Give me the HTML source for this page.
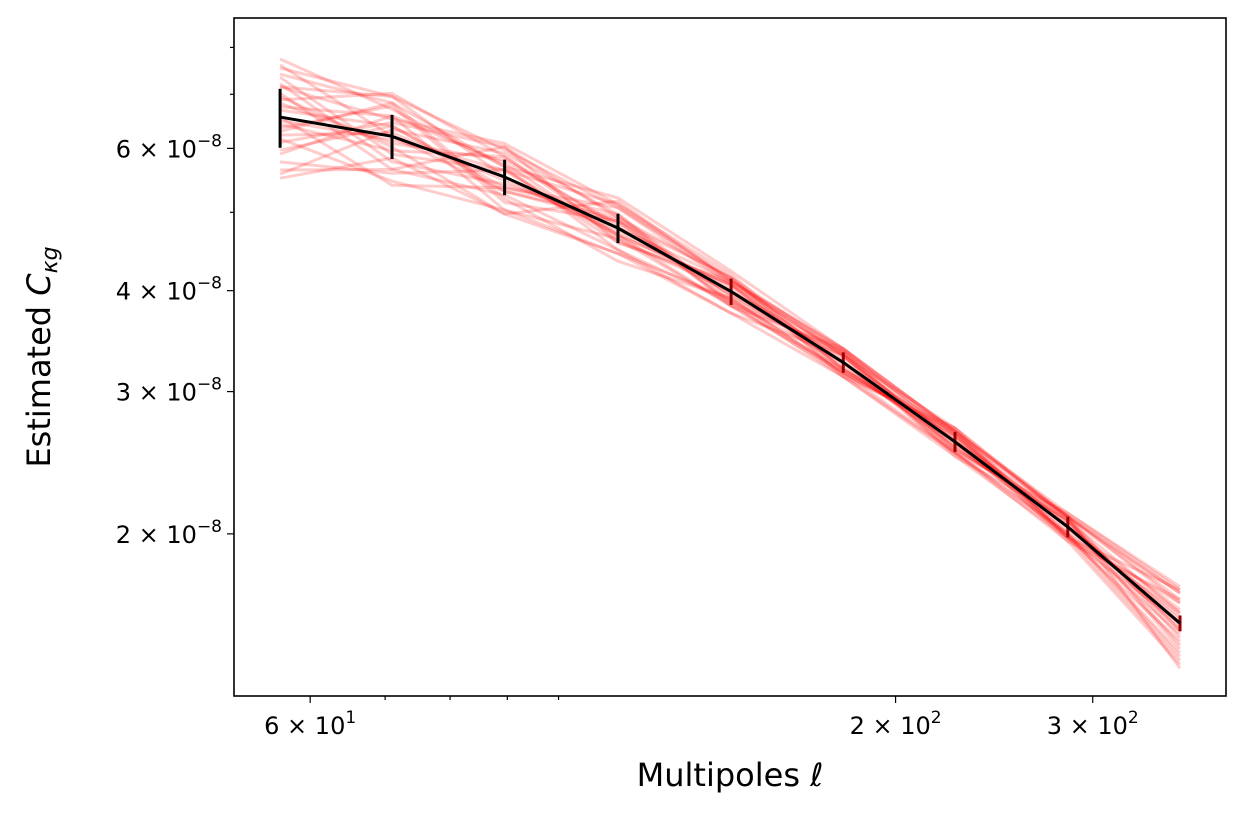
<!DOCTYPE html>
<html><head><meta charset="utf-8"><style>
body{margin:0;background:#fff;}
svg{display:block;font-family:"DejaVu Sans","Liberation Sans",sans-serif;}
</style></head><body>
<svg id="chart" width="1245" height="820" xmlns="http://www.w3.org/2000/svg">
<g id="lines"></g>
<g id="mean"></g>
<g id="axes"></g>
<text x="730" y="786" font-size="32" text-anchor="middle">Multipoles <tspan font-style="italic">ℓ</tspan></text>
<text transform="translate(50,357) rotate(-90)" font-size="32" text-anchor="middle">Estimated <tspan font-style="italic">C</tspan><tspan font-style="italic" font-size="22" dy="7">κg</tspan></text>
</svg>
<script>
const ells = [56.4, 71.0, 89.5, 113, 142.6, 179.6, 226, 285, 359];
const meanVals = [6.56, 6.21, 5.53, 4.78, 3.99, 3.26, 2.60, 2.04, 1.55]; // x1e-8
const errVals = [0.55, 0.39, 0.28, 0.20, 0.15, 0.095, 0.075, 0.06, 0.035]; // x1e-8
const devs = [ // percent deviation of realizations
[15,12,8,6,4,3,2,3,9],[-14,-9,-5,-6,-3,-4,-3,-2,-8],[9,5,10,7,3,2,4,3,6],[-6,-12,-9,-3,-4,-2,0,-3,-10],
[18,8,3,9,6,4,3,4,10],[-16,-6,-10,-7,-6,-4,-4,-3,-5],[5,13,6,-2,2,3,-2,2,3],[-9,3,-3,4,-2,-3,2,-2,-3],
[12,-5,2,-4,3,4,3,3,7],[-3,9,-7,2,-3,0,-3,-4,-11],[7,-9,9,3,4,-2,2,0,4],[-10,6,4,-3,0,3,-2,2,-2],
[0,-13,-3,6,2,-3,3,-3,6],[13,10,-6,-9,-2,2,-4,2,-6],[-15,2,7,4,-4,-3,3,3,9],[6,-3,-10,8,3,4,0,-2,-9],
[-4,10,3,-6,-6,2,-3,4,11],[10,-7,-2,2,4,-4,4,-3,0],[-7,4,9,-4,2,0,-2,3,-4],[16,0,-4,3,-3,3,2,-4,7],
[-12,-10,2,7,5,-2,4,2,-7],[3,6,-9,-7,-2,-3,-3,-2,3],[-2,-4,6,0,3,2,0,3,-12],[9,12,0,-2,-4,4,3,-3,10],
[4,-2,5,1,-1,1,1,-1,2],[-5,1,-1,-1,1,-1,-1,1,-2],[2,3,-4,2,-1,2,-1,0,1],[-1,-1,2,-2,2,-2,1,1,-1]
];
const xTickVals=[60,200,300], xTickLabels=["6","2","3"], xTickExp=["1","2","2"];
const yTickVals=[6,4,3,2], yTickLabels=["6","4","3","2"];
const X0=234,X1=1226,Y0=18,Y1=696;
const xMin=Math.log10(51.3),xMax=Math.log10(394.6),yMin=Math.log10(1.26),yMax=Math.log10(8.7);
const xs=v=>X0+(Math.log10(v)-xMin)/(xMax-xMin)*(X1-X0);
const ys=v=>Y1-(Math.log10(v)-yMin)/(yMax-yMin)*(Y1-Y0);
const NS="http://www.w3.org/2000/svg";
function mk(t,a,p){const e=document.createElementNS(NS,t);for(const k in a)e.setAttribute(k,a[k]);p.appendChild(e);return e;}
const gl=document.getElementById('lines');
devs.forEach((d,i)=>{
  const pts=ells.map((l,j)=>xs(l).toFixed(1)+','+ys(meanVals[j]*(1+d[j]/100)).toFixed(1)).join(' ');
  const e=mk('polyline',{points:pts,fill:'none',stroke:'#ff0000','stroke-opacity':0.2,'stroke-width':3},gl);
  
  
});
const gm=document.getElementById('mean');
ells.forEach((l,j)=>{
  const e=mk('line',{x1:xs(l),x2:xs(l),y1:ys(meanVals[j]+errVals[j]),y2:ys(meanVals[j]-errVals[j]),stroke:j<4?'#000':'#900','stroke-width':3},gm);
  
  
});
const ml=mk('polyline',{points:ells.map((l,j)=>xs(l)+','+ys(meanVals[j])).join(' '),fill:'none',stroke:'#000','stroke-width':3},gm);


const ga=document.getElementById('axes');
const fr=mk('rect',{x:X0,y:Y0,width:X1-X0,height:Y1-Y0,fill:'none',stroke:'#000','stroke-width':1.6},ga);


[60,70,80,90,100,200,300].forEach(v=>{mk('line',{x1:xs(v),x2:xs(v),y1:Y1,y2:Y1+(xTickVals.includes(v)?7:4),stroke:'#000','stroke-width':1.2},ga);});
[2,3,4,5,6,7,8].forEach(v=>{mk('line',{x1:X0,x2:X0-(yTickVals.includes(v)?7:4),y1:ys(v),y2:ys(v),stroke:'#000','stroke-width':1.2},ga);});
xTickVals.forEach((v,i)=>{
  const t=mk('text',{x:xs(v),y:Y1+38,'font-size':24,'text-anchor':'middle'},ga);
  t.innerHTML=xTickLabels[i]+' × 10<tspan font-size="17" dy="-11">'+xTickExp[i]+'</tspan>';
  
  
});
yTickVals.forEach((v,i)=>{
  const t=mk('text',{x:X0-12,y:ys(v)+9,'font-size':24,'text-anchor':'end'},ga);
  t.innerHTML=yTickLabels[i]+' × 10<tspan font-size="17" dy="-11">−8</tspan>';
  
  
});
</script>
</body></html>
